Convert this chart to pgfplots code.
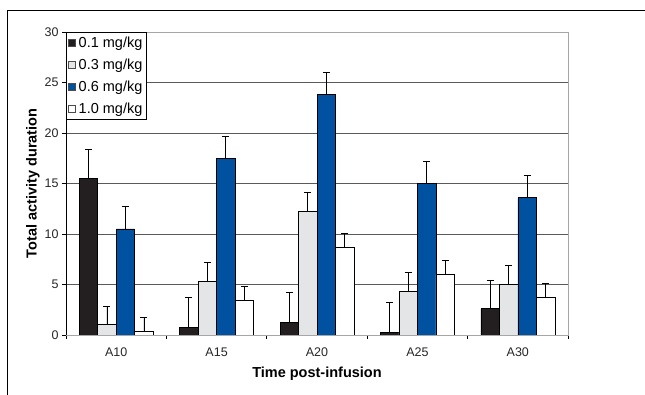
\documentclass[border=0pt]{standalone}
\usepackage{pgfplots}
\pgfplotsset{compat=1.18}
\usepackage{pgfplotstable}
\usepackage{fontspec}
\setmainfont{Liberation Sans}
\definecolor{cblack}{RGB}{35,31,32}
\definecolor{cgray}{RGB}{228,229,231}
\definecolor{cblue}{RGB}{0,82,160}
\definecolor{gridc}{RGB}{90,90,90}

\pgfplotstableread{
x y e
0 15.5 2.9
1 0.75 2.95
2 1.25 2.95
3 0.25 2.95
4 2.6 2.85
}\dA
\pgfplotstableread{
x y e
0 1.05 1.8
1 5.3 1.85
2 12.25 1.85
3 4.3 1.85
4 5.0 1.9
}\dB
\pgfplotstableread{
x y e
0 10.5 2.2
1 17.5 2.2
2 23.8 2.2
3 15.0 2.2
4 13.6 2.2
}\dC
\pgfplotstableread{
x y e
0 0.35 1.4
1 3.4 1.4
2 8.7 1.4
3 6.0 1.4
4 3.7 1.4
}\dD

\begin{document}
\begin{tikzpicture}
\path[use as bounding box] (0pt,0pt) rectangle (645pt,395pt);
\draw[line width=1pt,black] (7pt,0pt) -- (7pt,384pt) -- (645pt,384pt);
\begin{axis}[
  at={(66pt,60pt)}, anchor=south west,
  scale only axis, width=502pt, height=303pt,
  xmin=-0.5, xmax=4.5, ymin=0, ymax=30,
  ybar=0pt, bar width=18.5pt,
  xtick={0,1,2,3,4},
  xticklabels={A10,A15,A20,A25,A30},
  minor xtick={-0.5,0.5,1.5,2.5,3.5,4.5},
  major x tick style={draw=none},
  minor tick length=4pt,
  major tick length=4pt,
  tick align=outside,
  xtick pos=bottom, ytick pos=left,
  ytick={0,5,10,15,20,25,30},
  ymajorgrids,
  major grid style={gridc, line width=0.8pt},
  axis line style={gray!70, line width=0.8pt},
  tick style={black, line width=0.8pt},
  /pgf/number format/assume math mode=true,
  tick label style={font=\fontsize{12.5}{14}\selectfont, text=black!85},
  xticklabel style={yshift=-5pt},
  xlabel={\textbf{Time post-infusion}},
  ylabel={\textbf{Total activity duration}},
  label style={font=\fontsize{14.5}{16}\selectfont},
  xlabel style={yshift=-4pt},
  ylabel style={yshift=-2pt},
  legend style={at={(rel axis cs:0,1)}, anchor=north west, draw=black,
     fill=white, font=\fontsize{14.5}{16}\selectfont, row sep=5.8pt,
     inner xsep=2pt, inner ysep=3pt, cells={anchor=west},
     /tikz/every odd column/.append style={column sep=1pt}},
  legend image code/.code={\draw[#1, draw=black!70, line width=0.5pt, ybar=0pt] (0pt,-3.5pt) rectangle (7pt,3.5pt);},
  error bars/y dir=plus, error bars/y explicit,
  error bars/error bar style={black, line width=0.8pt},
  error bars/error mark options={rotate=90, mark size=3.5pt, line width=0.8pt, black},
]
\addplot[fill=cblack, draw=black, line width=0.6pt] table[x=x,y=y,y error=e]{\dA};
\addplot[fill=cgray, draw=black, line width=0.6pt] table[x=x,y=y,y error=e]{\dB};
\addplot[fill=cblue, draw=black, line width=0.6pt] table[x=x,y=y,y error=e]{\dC};
\addplot[fill=white, draw=black, line width=0.6pt] table[x=x,y=y,y error=e]{\dD};
\legend{0.1 mg/kg,0.3 mg/kg,0.6 mg/kg,1.0 mg/kg}
\draw[black, line width=0.8pt] (rel axis cs:0,1) -- (rel axis cs:0,0) -- (rel axis cs:1,0);
\end{axis}
\end{tikzpicture}
\end{document}
